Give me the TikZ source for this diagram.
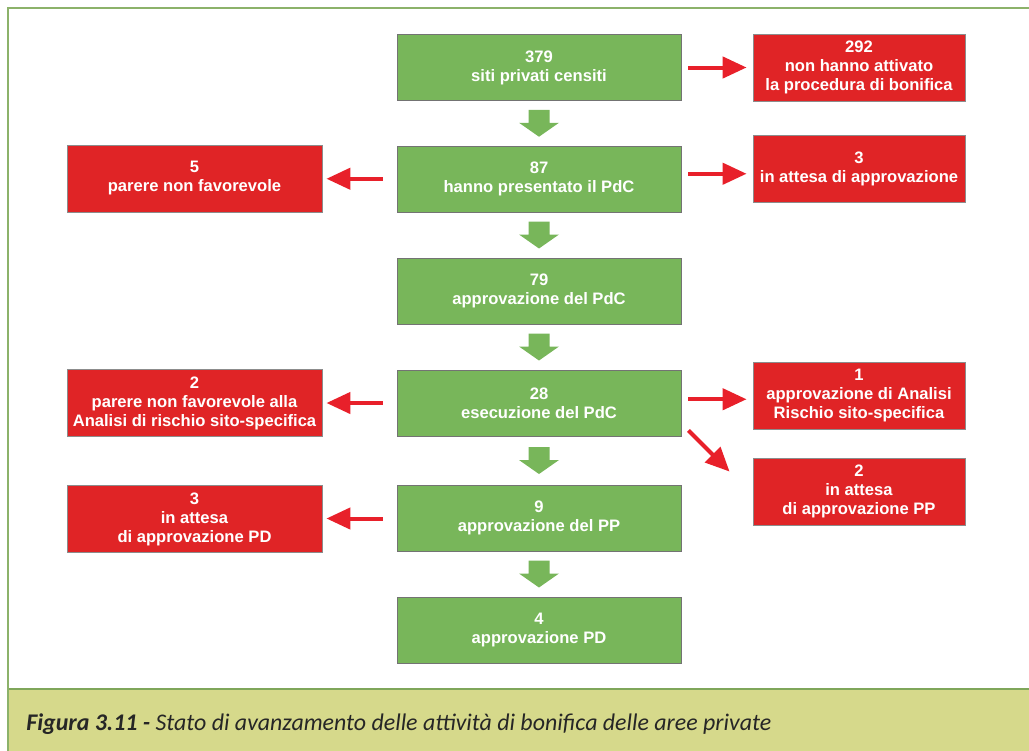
\documentclass[tikz,border=0pt]{standalone}
\usepackage{fontspec}
\setmainfont{Liberation Sans}
\newfontfamily\captionfont{Carlito}
\usepackage{tikz}
\usetikzlibrary{arrows.meta, calc}
\definecolor{boxgreen}{HTML}{78B65A}
\definecolor{boxred}{HTML}{E02426}
\definecolor{arrowred}{HTML}{E8202A}
\definecolor{framegreen}{HTML}{8CB26A}
\definecolor{capfill}{HTML}{D6D98B}
\definecolor{capline}{HTML}{7FA65A}
\definecolor{captext}{HTML}{262626}

\begin{document}
\begin{tikzpicture}[x=0.025cm, y=-0.025cm,
  box/.style={rectangle, inner sep=0, align=center, text=white,
    font=\bfseries\fontsize{11.8}{13.5}\selectfont},
  greenbox/.style={box, fill=boxgreen, draw=black!55, line width=0.6pt,
    minimum width=7.1cm, minimum height=1.65cm},
  redbox/.style={box, fill=boxred, draw=black!45, line width=0.6pt,
    minimum height=1.675cm},
  redarrow/.style={draw=arrowred, line width=0.1cm,
    -{Triangle[length=0.6cm, width=0.53cm]}}]

  \useasboundingbox (0, 0) rectangle (1029, 750);
  \clip (0, 0) rectangle (1029, 750);

  % frame and caption band
  \fill[capfill] (8, 689) rectangle (1040, 760);
  \draw[capline, line width=1.5pt] (8, 689) -- (1040, 689);
  \draw[framegreen, line width=1.5pt] (8, 760) -- (8, 8) -- (1040, 8);
  \node[anchor=west, text=captext, inner sep=0,
    font=\captionfont\itshape\fontsize{17}{20}\selectfont] (cap) at (26, 724)
    {{\bfseries Figura 3.11 -} Stato di avanzamento delle attività di bonifica delle aree private};

  % main column
  \node[greenbox] (g1) at (539, 67.5) {379\\siti privati censiti};
  \node[greenbox] (g2) at (539, 179) {87\\hanno presentato il PdC};
  \node[greenbox] (g3) at (539, 291) {79\\approvazione del PdC};
  \node[greenbox] (g4) at (539, 403) {28\\esecuzione del PdC};
  \node[greenbox] (g5) at (539, 518) {9\\approvazione del PP};
  \node[greenbox] (g6) at (539, 630) {4\\approvazione PD};

  % right side
  \node[redbox, minimum width=5.3cm] (r1) at (859, 67.5)
    {292\\non hanno attivato\\la procedura di bonifica};
  \node[redbox, minimum width=5.3cm] (r2) at (859, 168.5) {3\\in attesa di approvazione};
  \node[redbox, minimum width=5.3cm] (r3) at (859, 395.5)
    {1\\approvazione di Analisi\\Rischio sito-specifica};
  \node[redbox, minimum width=5.3cm] (r4) at (859, 491.5)
    {2\\in attesa\\di approvazione PP};

  % left side
  \node[redbox, minimum width=6.375cm] (l1) at (194.5, 178.5) {5\\parere non favorevole};
  \node[redbox, minimum width=6.375cm] (l2) at (194.5, 403)
    {2\\parere non favorevole alla\\Analisi di rischio sito-specifica};
  \node[redbox, minimum width=6.375cm] (l3) at (194.5, 519)
    {3\\in attesa\\di approvazione PD};

  % green block arrows
  \foreach \a/\b in {g1/g2, g2/g3, g3/g4, g4/g5, g5/g6} {
    \path (\a.south) -- (\b.north) coordinate[midway] (m);
    \fill[boxgreen] ($(m)+(-10.5,-13.5)$) -- ($(m)+(10.5,-13.5)$)
      -- ($(m)+(10.5,-0.5)$) -- ($(m)+(20,-0.5)$) -- ($(m)+(0,13.5)$)
      -- ($(m)+(-20,-0.5)$) -- ($(m)+(-10.5,-0.5)$) -- cycle;
  }

  % red arrows
  \foreach \a/\b in {g1/r1, g2/r2, g4/r3} {
    \path (\a.east) -- (\b.west) coordinate[midway] (m);
    \draw[redarrow, shorten <=0.175cm, shorten >=0.15cm] (\a.east |- m) -- (\b.west |- m);
  }
  \foreach \a/\b in {g2/l1, g4/l2, g5/l3} {
    \path (\a.west) -- (\b.east) coordinate[midway] (m);
    \draw[redarrow, shorten <=0.35cm, shorten >=0.1cm] (\a.west |- m) -- (\b.east |- m);
  }

  \coordinate (d1) at ($(g4.south east)+(7,-6)$);
  \coordinate (d2) at ($(r4.north west)+(-23,14)$);
  \draw[redarrow] (d1) -- (d2);

\end{tikzpicture}
\end{document}
